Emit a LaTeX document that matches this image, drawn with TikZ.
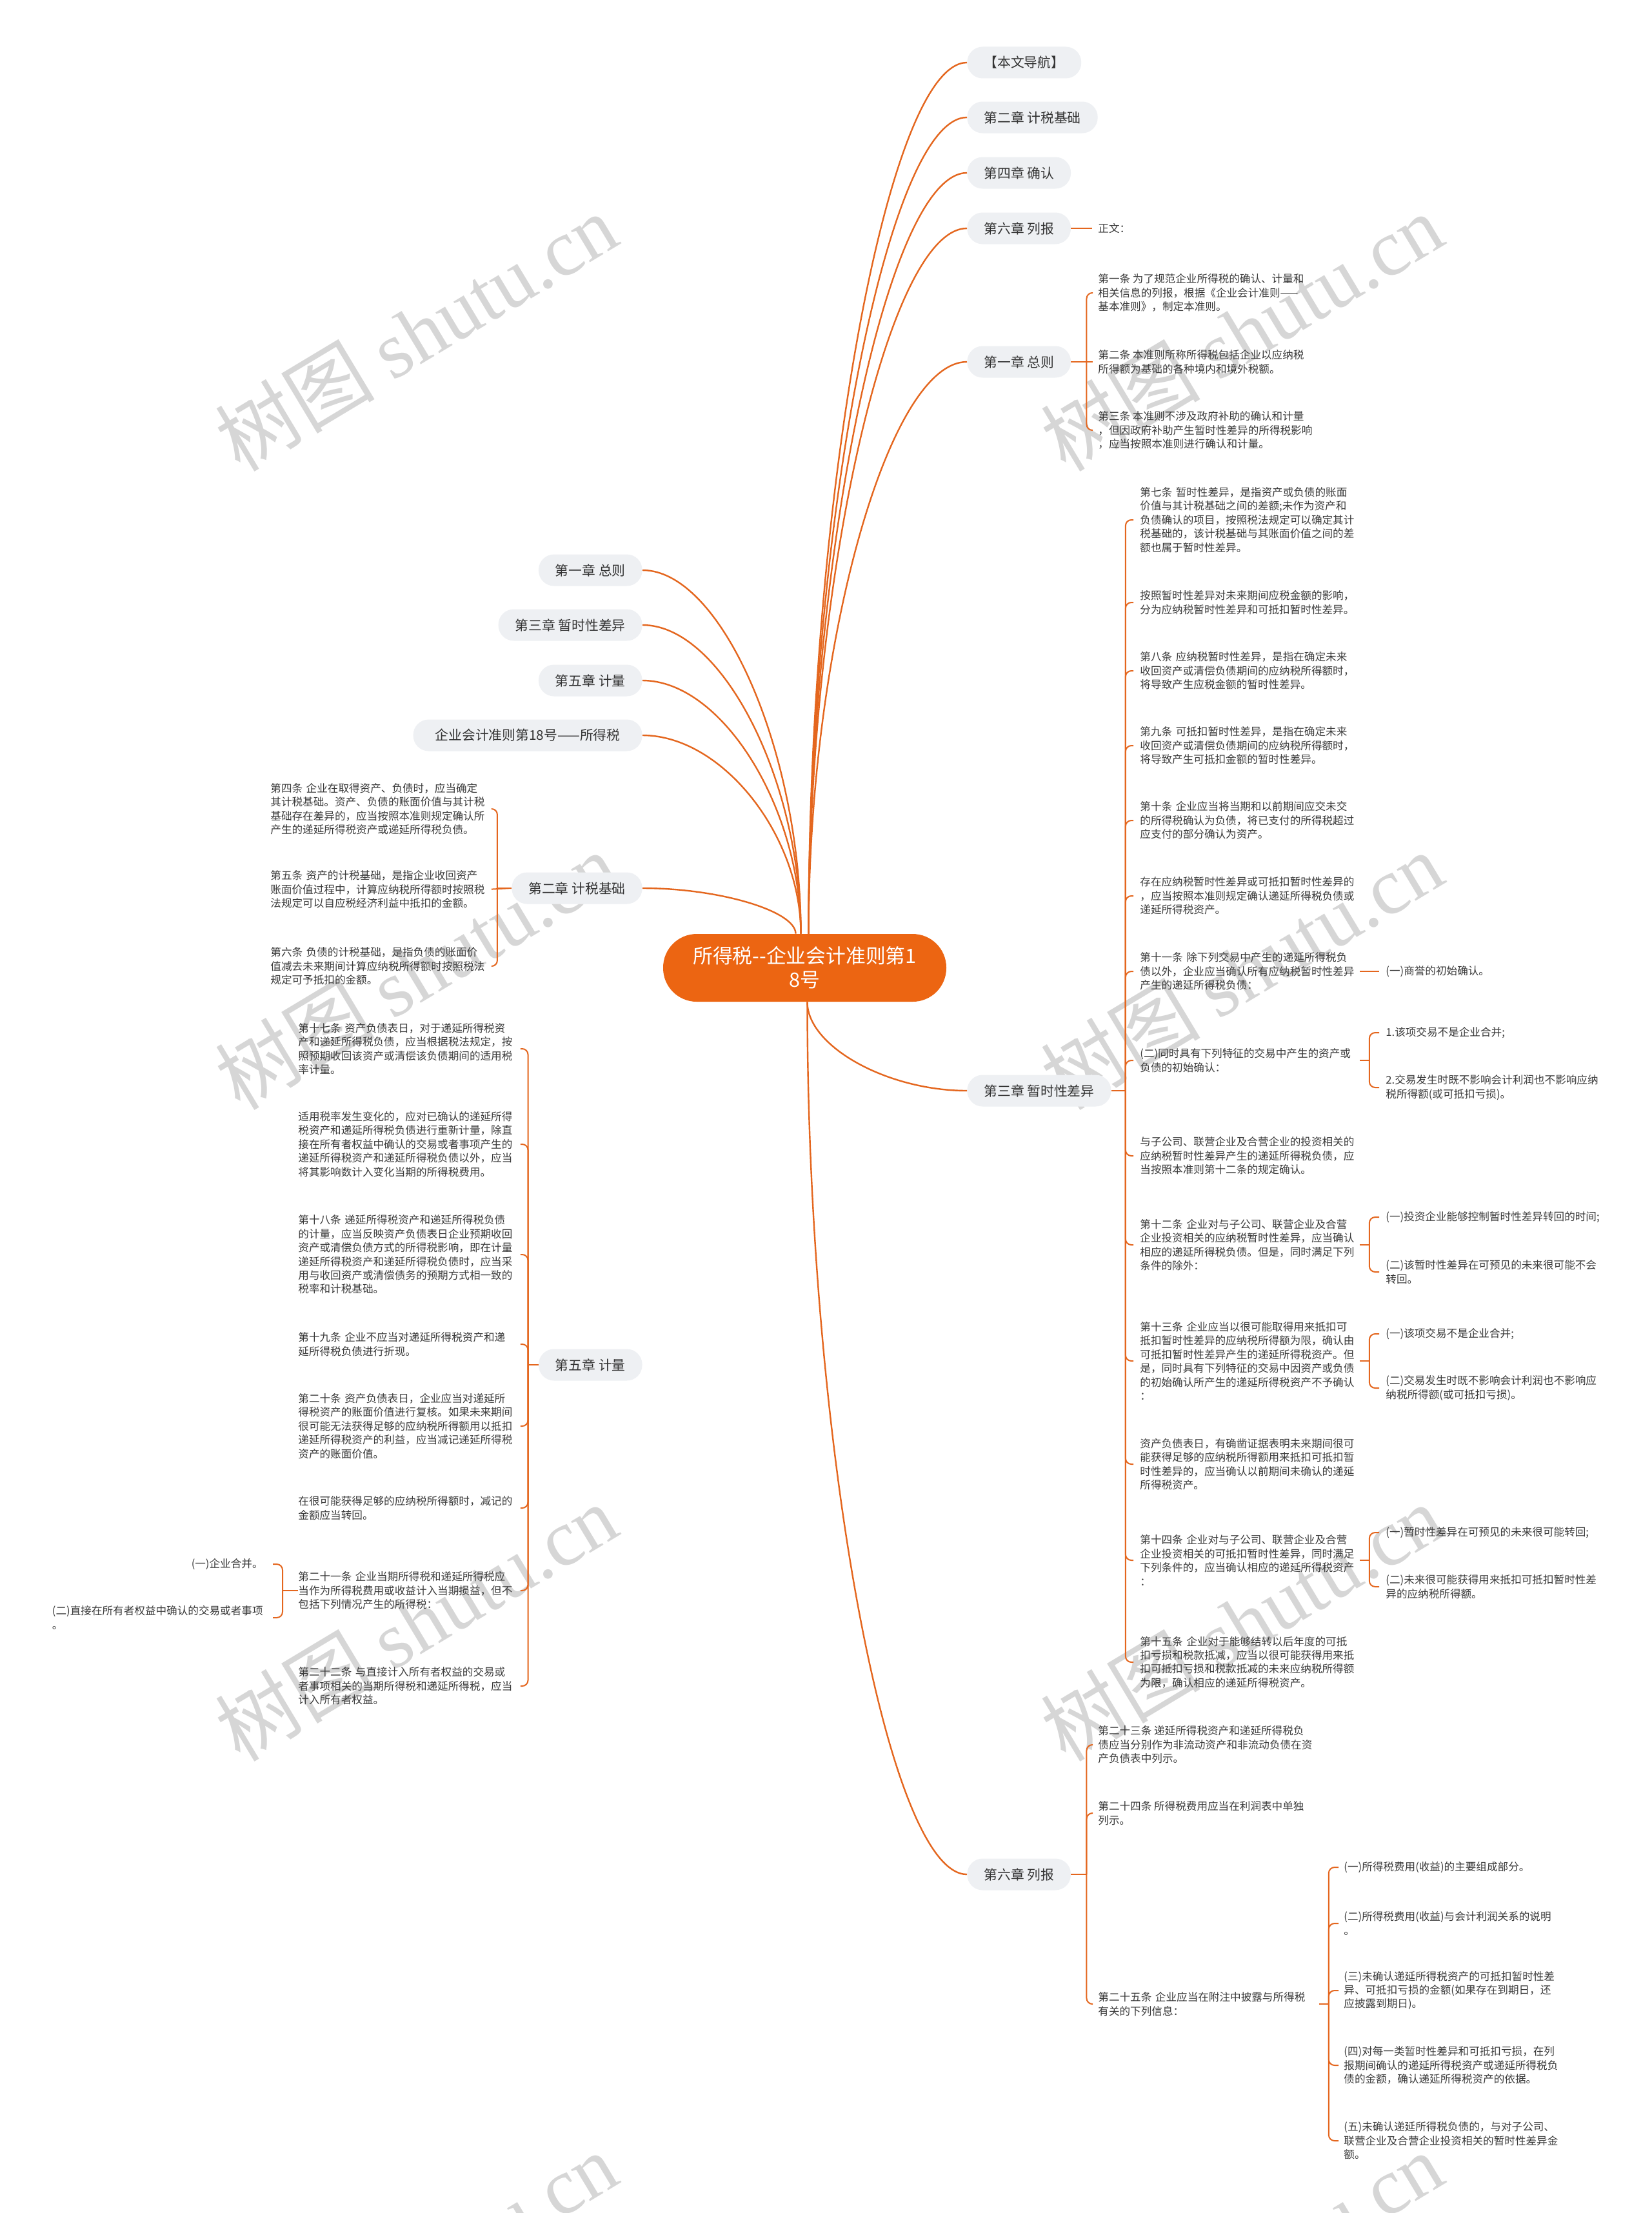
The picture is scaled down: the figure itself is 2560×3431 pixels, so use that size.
\documentclass[tikz,border=0pt]{standalone}
\usepackage{fontspec}
\setmainfont{Noto Sans CJK SC}
\newfontfamily\wmlatin{Liberation Serif}
\usetikzlibrary{calc}
\definecolor{ora}{HTML}{E4661E}
\definecolor{orf}{HTML}{EC6512}
\definecolor{pillc}{HTML}{EEF0F3}
\definecolor{txtc}{HTML}{333333}
\definecolor{subc}{HTML}{3A3A3A}
\definecolor{wmc}{HTML}{D6D6D6}
\tikzset{
  pillnode/.style={fill=pillc, rounded corners=12pt, minimum height=24.5pt, inner xsep=13pt, inner ysep=0pt, text=txtc, font=\fontsize{10.4}{12.5}\selectfont},
  cennode/.style={fill=orf, text=white, rounded corners=26pt, minimum width=219.5pt, minimum height=52.5pt, inner sep=0pt, align=center, font=\fontsize{15.4}{18.5}\selectfont},
  txtnode/.style={inner sep=0pt, align=left, text=subc, font=\fontsize{8.3}{10.7}\selectfont},
  mainc/.style={draw=ora, line width=1.2pt},
  brc/.style={draw=ora, line width=1pt},
  brk/.style={draw=ora, line width=1pt, rounded corners=4.5pt, shorten >=#1},
  brk/.default=4pt,
  wmnode/.style={text=wmc, rotate=31, inner sep=0pt, font=\fontsize{62}{70}\selectfont},
}
\newcommand\mcurve[2]{%
  \coordinate (mcA) at (#1); \coordinate (mcB) at (#2); \coordinate (mcK) at (mcA |- mcB);
  \draw[mainc] (mcA) .. controls ($(mcA)!0.5!(mcK)$) and ($(mcB)!0.5!(mcK)$) .. (mcB);}
\newcommand\stubR[2]{\draw[brc] (#1.east) -- ++(#2,0);}
\newcommand\kidR[4][4pt]{\draw[brk=#1] (#2.east) ++(#3,0) |- (#4.west);}
\newcommand\stubL[2]{\draw[brc] (#1.west) -- ++(-#2,0);}
\newcommand\kidL[4][4pt]{\draw[brk=#1] (#2.west) ++(-#3,0) |- (#4.east);}
\begin{document}
\begin{tikzpicture}[x=0.5pt, y=-0.5pt]
\useasboundingbox (0,0) rectangle (2560,3431);
\fill[white] (0,0) rectangle (2560,3431);
% watermarks
\foreach \wx in {645,1925} {\foreach \wy in {515,1505,2515,3520} {\node[wmnode] (wm\wx x\wy) at (\wx,\wy) {树图 {\wmlatin shutu.cn}};}}

% center
\node[cennode] (cen) at (1247.5,1500.5) {所得税-{}-企业会计准则第1\\8号};
\coordinate (cTL) at ($(cen.north)+(-6,0)$);
\coordinate (cTL2) at ($(cen.north)+(-14,0)$);
\coordinate (cTR) at ($(cen.north)+(6,0)$);
\coordinate (cBR) at ($(cen.south)+(4,0)$);

% right first level
\node[pillnode, anchor=west, minimum width=88pt] (nav) at (1499,97) {【本文导航】};
\node[pillnode, anchor=west] (r2) at (1499,182) {第二章 计税基础};
\node[pillnode, anchor=west] (r4) at (1499,268) {第四章 确认};
\node[pillnode, anchor=west] (r6a) at (1499,354) {第六章 列报};
\node[pillnode, anchor=west] (r1) at (1499,561) {第一章 总则};
\node[pillnode, anchor=west] (r3) at (1499,1691) {第三章 暂时性差异};
\node[pillnode, anchor=west] (r6) at (1499,2906) {第六章 列报};

% left first level
\node[pillnode, anchor=east] (l1) at (996,884) {第一章 总则};
\node[pillnode, anchor=east] (l3) at (996,969) {第三章 暂时性差异};
\node[pillnode, anchor=east] (l5) at (996,1055) {第五章 计量};
\node[pillnode, anchor=east, minimum width=177.5pt] (l18) at (996,1140) {企业会计准则第18号——所得税};
\node[pillnode, anchor=east] (l2) at (996,1377) {第二章 计税基础};
\node[pillnode, anchor=east] (l5b) at (996,2116) {第五章 计量};

% main curves
\mcurve{cTL}{l1.east}
\mcurve{cTL}{l3.east}
\mcurve{cTL}{l5.east}
\mcurve{cTL}{l18.east}
\mcurve{cTL2}{l2.east}
\mcurve{cTR}{nav.west}
\mcurve{cTR}{r2.west}
\mcurve{cTR}{r4.west}
\mcurve{cTR}{r6a.west}
\mcurve{cTR}{r1.west}
\mcurve{cBR}{r3.west}
\mcurve{cBR}{r6.west}

% 正文
\node[txtnode, anchor=west] (zw) at (1702,354) {正文：};
\draw[brc, shorten >=4.5pt] (r6a.east) -- (zw.west);

% right chapter 1
\node[txtnode, anchor=west] (c1a) at (1702,454) {第一条 为了规范企业所得税的确认、计量和\\相关信息的列报，根据《企业会计准则——\\基本准则》，制定本准则。};
\node[txtnode, anchor=west] (c1b) at (1702,561) {第二条 本准则所称所得税包括企业以应纳税\\所得额为基础的各种境内和境外税额。};
\node[txtnode, anchor=west] (c1c) at (1702,667) {第三条 本准则不涉及政府补助的确认和计量\\，但因政府补助产生暂时性差异的所得税影响\\，应当按照本准则进行确认和计量。};
\stubR{r1}{24}
\kidR{r1}{24}{c1a}
\draw[brc, shorten >=4pt] (r1.east) -- (c1b.west);
\kidR{r1}{24}{c1c}

% right chapter 3
\tikzset{tw/.style={txtnode, anchor=west, text width=170pt}}
\node[tw] (t7) at (1767,806) {第七条 暂时性差异，是指资产或负债的账面\\价值与其计税基础之间的差额;未作为资产和\\负债确认的项目，按照税法规定可以确定其计\\税基础的，该计税基础与其账面价值之间的差\\额也属于暂时性差异。};
\node[tw] (t7b) at (1767,934) {按照暂时性差异对未来期间应税金额的影响，\\分为应纳税暂时性差异和可抵扣暂时性差异。};
\node[tw] (t8) at (1767,1040) {第八条 应纳税暂时性差异，是指在确定未来\\收回资产或清偿负债期间的应纳税所得额时，\\将导致产生应税金额的暂时性差异。};
\node[tw] (t9) at (1767,1156) {第九条 可抵扣暂时性差异，是指在确定未来\\收回资产或清偿负债期间的应纳税所得额时，\\将导致产生可抵扣金额的暂时性差异。};
\node[tw] (t10) at (1767,1272) {第十条 企业应当将当期和以前期间应交未交\\的所得税确认为负债，将已支付的所得税超过\\应支付的部分确认为资产。};
\node[tw] (tcz) at (1767,1389) {存在应纳税暂时性差异或可抵扣暂时性差异的\\，应当按照本准则规定确认递延所得税负债或\\递延所得税资产。};
\node[tw] (t11) at (1767,1506) {第十一条 除下列交易中产生的递延所得税负\\债以外，企业应当确认所有应纳税暂时性差异\\产生的递延所得税负债：};
\node[tw] (t2x) at (1767,1644) {(二)同时具有下列特征的交易中产生的资产或\\负债的初始确认：};
\node[tw] (tzg) at (1767,1792) {与子公司、联营企业及合营企业的投资相关的\\应纳税暂时性差异产生的递延所得税负债，应\\当按照本准则第十二条的规定确认。};
\node[tw] (t12) at (1767,1930) {第十二条 企业对与子公司、联营企业及合营\\企业投资相关的应纳税暂时性差异，应当确认\\相应的递延所得税负债。但是，同时满足下列\\条件的除外：};
\node[tw] (t13) at (1767,2110) {第十三条 企业应当以很可能取得用来抵扣可\\抵扣暂时性差异的应纳税所得额为限，确认由\\可抵扣暂时性差异产生的递延所得税资产。但\\是，同时具有下列特征的交易中因资产或负债\\的初始确认所产生的递延所得税资产不予确认\\：};
\node[tw] (tzc) at (1767,2270) {资产负债表日，有确凿证据表明未来期间很可\\能获得足够的应纳税所得额用来抵扣可抵扣暂\\时性差异的，应当确认以前期间未确认的递延\\所得税资产。};
\node[tw] (t14) at (1767,2419) {第十四条 企业对与子公司、联营企业及合营\\企业投资相关的可抵扣暂时性差异，同时满足\\下列条件的，应当确认相应的递延所得税资产\\：};
\node[tw] (t15) at (1767,2577) {第十五条 企业对于能够结转以后年度的可抵\\扣亏损和税款抵减，应当以很可能获得用来抵\\扣可抵扣亏损和税款抵减的未来应纳税所得额\\为限，确认相应的递延所得税资产。};
\stubR{r3}{22}
\foreach \k in {t7,t7b,t8,t9,t10,tcz,t11,t2x,tzg,t12,t13,tzc,t14,t15} {\kidR[5pt]{r3}{22}{\k}}

% chapter 3 third level
\tikzset{tk/.style={txtnode, anchor=west}}
\node[tk] (g1) at (2148,1506) {(一)商誉的初始确认。};
\draw[brc, shorten >=5pt] (t11.east) -- (g1.west);
\node[tk] (k1) at (2148,1601) {1.该项交易不是企业合并;};
\node[tk] (k2) at (2148,1686) {2.交易发生时既不影响会计利润也不影响应纳\\税所得额(或可抵扣亏损)。};
\node[tk] (k12a) at (2148,1887) {(一)投资企业能够控制暂时性差异转回的时间;};
\node[tk] (k12b) at (2148,1972) {(二)该暂时性差异在可预见的未来很可能不会\\转回。};
\node[tk] (k13a) at (2148,2068) {(一)该项交易不是企业合并;};
\node[tk] (k13b) at (2148,2152) {(二)交易发生时既不影响会计利润也不影响应\\纳税所得额(或可抵扣亏损)。};
\node[tk] (k14a) at (2148,2376) {(一)暂时性差异在可预见的未来很可能转回;};
\node[tk] (k14b) at (2148,2460) {(二)未来很可能获得用来抵扣可抵扣暂时性差\\异的应纳税所得额。};
\stubR{t2x}{15} \kidR[5pt]{t2x}{15}{k1} \kidR[5pt]{t2x}{15}{k2}
\stubR{t12}{15} \kidR[5pt]{t12}{15}{k12a} \kidR[5pt]{t12}{15}{k12b}
\stubR{t13}{15} \kidR[5pt]{t13}{15}{k13a} \kidR[5pt]{t13}{15}{k13b}
\stubR{t14}{15} \kidR[5pt]{t14}{15}{k14a} \kidR[5pt]{t14}{15}{k14b}

% right chapter 6
\node[txtnode, anchor=west] (t23) at (1702,2705) {第二十三条 递延所得税资产和递延所得税负\\债应当分别作为非流动资产和非流动负债在资\\产负债表中列示。};
\node[txtnode, anchor=west] (t24) at (1702,2811) {第二十四条 所得税费用应当在利润表中单独\\列示。};
\node[txtnode, anchor=west, text width=171pt] (t25) at (1702,3107) {第二十五条 企业应当在附注中披露与所得税\\有关的下列信息：};
\stubR{r6}{24} \kidR{r6}{24}{t23} \kidR{r6}{24}{t24} \kidR{r6}{24}{t25}
\node[tk] (k25a) at (2083,2895) {(一)所得税费用(收益)的主要组成部分。};
\node[tk] (k25b) at (2083,2982) {(二)所得税费用(收益)与会计利润关系的说明\\。};
\node[tk] (k25c) at (2083,3086) {(三)未确认递延所得税资产的可抵扣暂时性差\\异、可抵扣亏损的金额(如果存在到期日，还\\应披露到期日)。};
\node[tk] (k25d) at (2083,3202) {(四)对每一类暂时性差异和可抵扣亏损，在列\\报期间确认的递延所得税资产或递延所得税负\\债的金额，确认递延所得税资产的依据。};
\node[tk] (k25e) at (2083,3319) {(五)未确认递延所得税负债的，与对子公司、\\联营企业及合营企业投资相关的暂时性差异金\\额。};
\stubR{t25}{15}
\foreach \k in {k25a,k25b,k25c,k25d,k25e} {\kidR{t25}{15}{\k}}

% left chapter 2
\tikzset{lw/.style={txtnode, anchor=west, text width=167pt}}
\node[lw] (k4) at (419,1254) {第四条 企业在取得资产、负债时，应当确定\\其计税基础。资产、负债的账面价值与其计税\\基础存在差异的，应当按照本准则规定确认所\\产生的递延所得税资产或递延所得税负债。};
\node[lw] (k5) at (419,1379) {第五条 资产的计税基础，是指企业收回资产\\账面价值过程中，计算应纳税所得额时按照税\\法规定可以自应税经济利益中抵扣的金额。};
\node[lw] (k6) at (419,1498) {第六条 负债的计税基础，是指负债的账面价\\值减去未来期间计算应纳税所得额时按照税法\\规定可予抵扣的金额。};
\stubL{l2}{22}
\kidL{l2}{22}{k4}
\draw[brc, shorten >=4pt] (l2.west) -- (k5.east);
\kidL{l2}{22}{k6}

% left chapter 5
\tikzset{lv/.style={txtnode, anchor=west, text width=168pt}}
\node[lv] (k17) at (462,1626) {第十七条 资产负债表日，对于递延所得税资\\产和递延所得税负债，应当根据税法规定，按\\照预期收回该资产或清偿该负债期间的适用税\\率计量。};
\node[lv] (kty) at (462,1774) {适用税率发生变化的，应对已确认的递延所得\\税资产和递延所得税负债进行重新计量，除直\\接在所有者权益中确认的交易或者事项产生的\\递延所得税资产和递延所得税负债以外，应当\\将其影响数计入变化当期的所得税费用。};
\node[lv] (k18) at (462,1945) {第十八条 递延所得税资产和递延所得税负债\\的计量，应当反映资产负债表日企业预期收回\\资产或清偿负债方式的所得税影响，即在计量\\递延所得税资产和递延所得税负债时，应当采\\用与收回资产或清偿债务的预期方式相一致的\\税率和计税基础。};
\node[lv] (k19) at (462,2084) {第十九条 企业不应当对递延所得税资产和递\\延所得税负债进行折现。};
\node[lv] (k20) at (462,2211) {第二十条 资产负债表日，企业应当对递延所\\得税资产的账面价值进行复核。如果未来期间\\很可能无法获得足够的应纳税所得额用以抵扣\\递延所得税资产的利益，应当减记递延所得税\\资产的账面价值。};
\node[lv] (kzk) at (462,2338) {在很可能获得足够的应纳税所得额时，减记的\\金额应当转回。};
\node[lv] (k21) at (462,2466) {第二十一条 企业当期所得税和递延所得税应\\当作为所得税费用或收益计入当期损益，但不\\包括下列情况产生的所得税：};
\node[lv] (k22) at (462,2614) {第二十二条 与直接计入所有者权益的交易或\\者事项相关的当期所得税和递延所得税，应当\\计入所有者权益。};
\stubL{l5b}{16}
\foreach \k in {k17,kty,k18,k19,k20,kzk,k21,k22} {\kidL{l5b}{16}{\k}}

% k21 children
\node[txtnode, anchor=east] (k21a) at (408,2425) {(一)企业合并。};
\node[txtnode, anchor=east] (k21b) at (408,2508) {(二)直接在所有者权益中确认的交易或者事项\\。};
\stubL{k21}{24}
\kidL[7.5pt]{k21}{24}{k21a}
\kidL[7.5pt]{k21}{24}{k21b}
\end{tikzpicture}
\end{document}
